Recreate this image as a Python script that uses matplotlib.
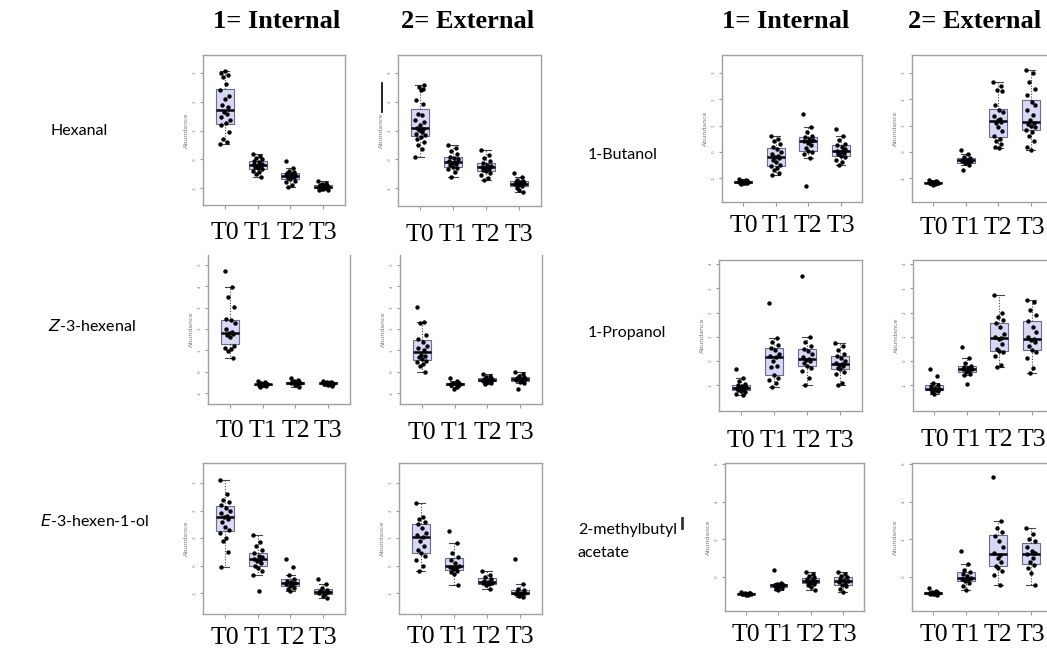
import matplotlib
matplotlib.use("Agg")
import matplotlib.pyplot as plt
from matplotlib.lines import Line2D

W, H = 1047, 649

# ---- data (values per time point T0..T3) ----
times = ["T0", "T1", "T2", "T3"]

hexanal_int = [
    [0.54, 0.6, 0.72, 0.95, 1.18, 1.26, 1.36, 1.47, 1.58, 1.64, 1.82, 1.88, 2.11, 2.22, 2.4, 2.63, 2.86, 2.92, 3.0, 3.07],
    [0.2, 0.1, 0.05, 0.0, -0.05, -0.1, -0.15, -0.18, -0.2, -0.22, -0.25, -0.28, -0.3, -0.35, -0.4, -0.45, -0.5, -0.6],
    [-0.06, -0.3, -0.4, -0.45, -0.48, -0.5, -0.53, -0.55, -0.57, -0.6, -0.62, -0.65, -0.7, -0.75, -0.8, -0.9, -0.96],
    [-0.76, -0.82, -0.86, -0.88, -0.9, -0.93, -0.95, -0.96, -0.97, -0.99, -1.0, -1.02, -1.04, -1.06, -1.08],
]
hexanal_ext = [
    [0.08, 0.37, 0.49, 0.6, 0.7, 0.78, 0.85, 0.9, 0.95, 1.01, 1.07, 1.1, 1.18, 1.3, 1.36, 1.53, 1.59, 1.94, 2.05, 2.4, 2.45, 2.51, 2.57],
    [0.49, 0.4, 0.3, 0.2, 0.1, 0.05, 0.0, -0.05, -0.1, -0.13, -0.15, -0.2, -0.25, -0.3, -0.35, -0.45, -0.61],
    [0.31, 0.15, 0.05, -0.05, -0.12, -0.18, -0.22, -0.25, -0.27, -0.3, -0.33, -0.38, -0.42, -0.47, -0.55, -0.65, -0.73],
    [-0.47, -0.6, -0.7, -0.75, -0.78, -0.8, -0.83, -0.85, -0.87, -0.9, -0.93, -0.98, -1.05, -1.13],
]
z3hexenal_int = [
    [4.7, 3.97, 3.5, 3.03, 2.45, 2.4, 2.3, 2.0, 1.85, 1.8, 1.75, 1.7, 1.6, 1.2, 1.1, 1.05, 0.95, 0.63],
    [-0.45, -0.5, -0.55, -0.57, -0.58, -0.6, -0.6, -0.62, -0.63, -0.65, -0.68, -0.7],
    [-0.31, -0.4, -0.45, -0.48, -0.5, -0.52, -0.53, -0.55, -0.58, -0.62, -0.7],
    [-0.42, -0.47, -0.5, -0.52, -0.54, -0.55, -0.56, -0.58, -0.6, -0.63, -0.68],
]
z3hexenal_ext = [
    [3.03, 2.35, 2.3, 1.72, 1.52, 1.4, 1.2, 1.1, 1.0, 0.8, 0.75, 0.7, 0.6, 0.5, 0.45, 0.35, 0.25, 0.0],
    [-0.31, -0.45, -0.52, -0.55, -0.58, -0.6, -0.62, -0.65, -0.7, -0.83],
    [-0.1, -0.2, -0.27, -0.3, -0.35, -0.38, -0.39, -0.42, -0.45, -0.47, -0.52, -0.58],
    [0.0, -0.1, -0.2, -0.27, -0.32, -0.35, -0.36, -0.38, -0.42, -0.47, -0.55, -0.83],
]
e3hexenol_int = [
    [3.13, 2.6, 2.4, 2.3, 2.2, 2.1, 2.0, 1.9, 1.8, 1.77, 1.7, 1.6, 1.4, 1.3, 1.2, 1.0, 0.9, 0.49, -0.04],
    [1.12, 0.85, 0.7, 0.55, 0.45, 0.35, 0.3, 0.25, 0.21, 0.18, 0.1, 0.0, -0.1, -0.2, -0.35, -0.91],
    [0.24, -0.04, -0.33, -0.5, -0.55, -0.6, -0.65, -0.67, -0.7, -0.75, -0.8, -0.85, -0.92],
    [-0.49, -0.67, -0.8, -0.88, -0.92, -0.95, -0.97, -1.0, -1.05, -1.1, -1.18],
]
e3hexenol_ext = [
    [2.28, 1.75, 1.7, 1.6, 1.5, 1.35, 1.2, 1.1, 1.05, 0.9, 0.7, 0.55, 0.45, 0.35, 0.2, 0.0, -0.21],
    [1.24, 0.82, 0.45, 0.3, 0.2, 0.1, 0.0, -0.05, -0.09, -0.12, -0.18, -0.25, -0.3, -0.7],
    [-0.18, -0.35, -0.43, -0.5, -0.55, -0.59, -0.62, -0.65, -0.67, -0.72, -0.85],
    [0.24, -0.67, -0.85, -0.9, -0.95, -0.98, -1.0, -1.02, -1.04, -1.1, -1.16],
]
butanol_int = [
    [-1.02, -1.08, -1.1, -1.12, -1.14, -1.15, -1.16, -1.17, -1.18, -1.19, -1.2, -1.22],
    [0.6, 0.5, 0.4, 0.3, 0.2, 0.1, 0.0, -0.1, -0.15, -0.18, -0.22, -0.3, -0.4, -0.5, -0.55, -0.6, -0.7, -0.8, -0.87],
    [1.44, 0.96, 0.75, 0.62, 0.55, 0.5, 0.45, 0.43, 0.42, 0.35, 0.25, 0.15, 0.05, 0.0, -0.1, -0.25, -1.31],
    [0.86, 0.6, 0.45, 0.3, 0.25, 0.2, 0.1, 0.05, 0.02, 0.0, -0.05, -0.1, -0.15, -0.2, -0.3, -0.4, -0.49],
]
butanol_ext = [
    [-1.08, -1.12, -1.14, -1.16, -1.17, -1.18, -1.19, -1.2, -1.22, -1.25],
    [0.08, -0.1, -0.2, -0.25, -0.3, -0.32, -0.33, -0.35, -0.4, -0.43, -0.5, -0.68],
    [2.66, 2.5, 2.35, 2.3, 1.78, 1.6, 1.5, 1.35, 1.25, 1.2, 1.15, 1.1, 0.95, 0.8, 0.6, 0.48, 0.4, 0.3, 0.2, 0.14],
    [3.1, 3.0, 2.66, 2.4, 2.16, 1.9, 1.8, 1.6, 1.4, 1.2, 1.1, 1.06, 1.0, 0.95, 0.85, 0.75, 0.6, 0.4, 0.2, 0.08],
]
propanol_int = [
    [-0.32, -0.7, -0.85, -0.95, -1.0, -1.03, -1.06, -1.1, -1.12, -1.14, -1.17, -1.2, -1.25, -1.3, -1.35, -1.42],
    [2.41, 0.95, 0.8, 0.65, 0.55, 0.45, 0.3, 0.21, 0.15, 0.0, -0.2, -0.25, -0.6, -0.7, -0.8, -0.9, -1.07],
    [3.5, 0.99, 0.8, 0.6, 0.5, 0.4, 0.3, 0.15, 0.08, 0.05, 0.0, -0.1, -0.2, -0.3, -0.4, -0.69, -1.0],
    [0.72, 0.6, 0.45, 0.3, 0.2, 0.1, 0.0, -0.08, -0.11, -0.15, -0.2, -0.3, -0.35, -0.45, -0.55, -0.9, -1.0],
]
propanol_ext = [
    [-0.32, -0.63, -0.9, -1.0, -1.05, -1.1, -1.15, -1.18, -1.2, -1.22, -1.25, -1.28, -1.35],
    [0.58, 0.1, -0.1, -0.2, -0.25, -0.3, -0.32, -0.35, -0.4, -0.45, -0.55, -0.6, -0.94],
    [2.74, 2.0, 1.8, 1.7, 1.55, 1.4, 1.1, 1.0, 0.96, 0.9, 0.7, 0.5, 0.4, 0.35, 0.2, -0.18, -0.25],
    [2.5, 2.45, 2.1, 1.9, 1.65, 1.4, 1.2, 1.0, 0.9, 0.88, 0.8, 0.6, 0.45, 0.35, 0.1, -0.3, -0.52],
]
mba_int = [
    [-0.8, -0.83, -0.85, -0.87, -0.88, -0.89, -0.9, -0.92, -0.94, -0.96],
    [0.36, -0.3, -0.35, -0.38, -0.4, -0.42, -0.44, -0.46, -0.5, -0.53, -0.57, -0.62, -0.7],
    [0.27, 0.15, 0.05, 0.0, -0.1, -0.15, -0.2, -0.21, -0.25, -0.3, -0.35, -0.44, -0.55, -0.71],
    [0.27, 0.18, 0.05, -0.02, -0.1, -0.18, -0.23, -0.28, -0.35, -0.42, -0.5, -0.62, -0.8],
]
mba_ext = [
    [-0.58, -0.75, -0.78, -0.8, -0.82, -0.85, -0.85, -0.88, -0.9, -0.92, -0.95],
    [1.4, 0.7, 0.4, 0.25, 0.15, 0.05, -0.05, -0.1, -0.15, -0.2, -0.3, -0.45, -0.7],
    [5.3, 3.0, 2.6, 2.4, 2.2, 1.9, 1.6, 1.3, 1.17, 1.0, 0.8, 0.6, 0.48, 0.3, 0.1, -0.43],
    [2.6, 2.3, 2.0, 1.9, 1.6, 1.4, 1.28, 1.2, 1.0, 0.8, 0.64, 0.5, 0.2, -0.43],
]

# fixed horizontal spread for the overlaid points
jitter = [-0.15, 0.08, -0.05, 0.12, -0.1, 0.03, 0.15, -0.12, 0.06, -0.02, 0.1, -0.08,
          0.0, 0.13, -0.14, 0.05, -0.06, 0.09, -0.11, 0.02, 0.11, -0.04, 0.14]

fig = plt.figure(figsize=(W / 100, H / 100), dpi=100)


def px_axes(l, t, r, b):
    return fig.add_axes([l / W, 1 - b / H, (r - l) / W, (b - t) / H])


def panel(box, data, ylim, yticks, gap, hide_top=False):
    ax = px_axes(*box)
    bp = ax.boxplot(data, positions=[1, 2, 3, 4], widths=0.55, patch_artist=True,
                    showfliers=False)
    for p in bp["boxes"]:
        p.set_facecolor("#d8d8f6")
        p.set_edgecolor("#6a6a8e")
        p.set_linewidth(0.8)
    for m in bp["medians"]:
        m.set_color("black")
        m.set_linewidth(1.8)
    for w in bp["whiskers"]:
        w.set_color("#444444")
        w.set_linestyle((0, (1, 1.5)))
        w.set_linewidth(0.8)
    for c in bp["caps"]:
        c.set_color("#444444")
        c.set_linewidth(0.8)
    for i, vals in enumerate(data):
        xs = [i + 1 + jitter[k % len(jitter)] for k in range(len(vals))]
        ax.scatter(xs, vals, s=10, color="black", zorder=3, linewidths=0)
    ax.set_xlim(0.34, 4.66)
    ax.set_ylim(*ylim)
    ax.set_xticks([1, 2, 3, 4])
    ax.set_xticklabels(times, fontfamily="Liberation Serif", fontsize=18.5)
    # gap = pixels between bottom spine and top of the T labels
    ax.tick_params(axis="x", length=3, color="#999999", pad=5 + (gap - 9) * 0.72)
    ax.set_yticks(yticks)
    ax.set_yticklabels([str(v) for v in yticks], rotation=90, fontsize=3, color="#777777",
                       va="center")
    ax.tick_params(axis="y", length=2.5, color="#999999", pad=2)
    ax.set_ylabel("Abundance", fontsize=4.5, color="#777777", labelpad=3)
    for s in ax.spines.values():
        s.set_color("#a0a0a0")
        s.set_linewidth(1.0)
    if hide_top:
        ax.spines["top"].set_visible(False)
    return ax


panel((203, 55, 345, 205), hexanal_int, (-1.59, 3.63), [-1, 0, 1, 2, 3], 15)
panel((398, 55, 541, 206), hexanal_ext, (-1.62, 3.63), [-1, 0, 1, 2, 3], 16)
panel((722, 55, 862, 202), butanol_int, (-1.91, 3.69), [-1, 0, 1, 2, 3], 11)
panel((912, 55, 1052, 202), butanol_ext, (-1.91, 3.69), [-1, 0, 1, 2, 3], 13)
panel((208, 255, 350, 404), z3hexenal_int, (-1.52, 5.47), [-1, 0, 1, 2, 3, 4, 5], 14, hide_top=True)
panel((400, 255, 542, 404), z3hexenal_ext, (-1.52, 5.47), [-1, 0, 1, 2, 3, 4, 5], 16, hide_top=True)
panel((719, 260, 862, 411), propanol_int, (-2.07, 4.17), [-1, 0, 1, 2, 3, 4], 17)
panel((913, 260, 1053, 411), propanol_ext, (-2.07, 4.17), [-1, 0, 1, 2, 3, 4], 16)
panel((203, 463, 345, 614), e3hexenol_int, (-1.76, 3.73), [-1, 0, 1, 2, 3], 11)
panel((399, 463, 542, 614), e3hexenol_ext, (-1.76, 3.73), [-1, 0, 1, 2, 3], 10)
panel((725, 463, 864, 611), mba_int, (-1.8, 6.05), [0, 2, 4, 6], 11)
panel((912, 463, 1052, 611), mba_ext, (-1.8, 6.05), [0, 2, 4, 6], 11)

# column headers
hdr = dict(fontfamily="Liberation Serif", fontweight="bold", fontsize=19, ha="center", va="center")
fig.text(277 / W, 1 - 21 / H, "1= Internal", **hdr)
fig.text(468 / W, 1 - 21 / H, "2= External", **hdr)
fig.text(786 / W, 1 - 21 / H, "1= Internal", **hdr)
fig.text(975 / W, 1 - 21 / H, "2= External", **hdr)

# compound names
lab = dict(fontfamily="Lato", fontsize=11.5, ha="left", va="center")
fig.text(50 / W, 1 - 131 / H, "Hexanal", **lab)
fig.text(48 / W, 1 - 326 / H, r"$\it{Z}$-3-hexenal", **lab)
fig.text(40 / W, 1 - 521 / H, r"$\it{E}$-3-hexen-1-ol", **lab)
fig.text(588 / W, 1 - 155 / H, "1-Butanol", **lab)
fig.text(588 / W, 1 - 333 / H, "1-Propanol", **lab)
fig.text(578 / W, 1 - 530 / H, "2-methylbutyl", **lab)
fig.text(578 / W, 1 - 553 / H, "acetate", **lab)

# stray marks present in the source image
fig.add_artist(Line2D([382 / W, 382 / W], [1 - 83 / H, 1 - 112 / H], color="black", lw=1.2))
fig.add_artist(Line2D([682 / W, 682 / W], [1 - 518 / H, 1 - 528 / H], color="#333333", lw=2))

fig.savefig("out.png", dpi=100)
